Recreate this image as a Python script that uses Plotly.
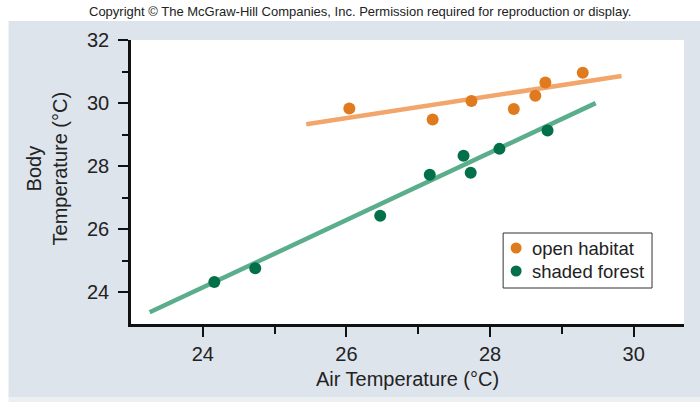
import plotly.graph_objects as go

# Lizard body temperature vs. air temperature in two habitats
open_air = [26.04, 27.20, 27.74, 28.33, 28.63, 28.77, 29.29]
open_body = [29.83, 29.48, 30.07, 29.81, 30.23, 30.65, 30.96]

forest_air = [24.16, 24.73, 26.47, 27.16, 27.63, 27.73, 28.13, 28.80]
forest_body = [24.33, 24.77, 26.43, 27.73, 28.33, 27.79, 28.55, 29.13]

# Regression line end points
open_fit_air = [25.44, 29.83]
open_fit_body = [29.33, 30.86]
forest_fit_air = [23.26, 29.47]
forest_fit_body = [23.37, 30.00]

major_ticks = [24, 26, 28, 30]
minor_x_ticks = [25, 27, 29]
major_y_ticks = [24, 26, 28, 30, 32]
minor_y_ticks = [25, 27, 29, 31]

series_names = ["open habitat", "shaded forest"]

ORANGE = "#e07a1f"
ORANGE_LINE = "#f2a66c"
GREEN = "#03704a"
GREEN_LINE = "#5bae8c"
PANEL = "#dde4ec"
FONT = "Liberation Sans, Arial, sans-serif"

fig = go.Figure()

fig.add_trace(go.Scatter(x=open_fit_air, y=open_fit_body, mode="lines",
                         line=dict(color=ORANGE_LINE, width=4.5),
                         showlegend=False, hoverinfo="skip"))
fig.add_trace(go.Scatter(x=forest_fit_air, y=forest_fit_body, mode="lines",
                         line=dict(color=GREEN_LINE, width=4.5),
                         showlegend=False, hoverinfo="skip"))
fig.add_trace(go.Scatter(x=open_air, y=open_body, mode="markers",
                         name=series_names[0], showlegend=False,
                         marker=dict(color=ORANGE, size=12)))
fig.add_trace(go.Scatter(x=forest_air, y=forest_body, mode="markers",
                         name=series_names[1], showlegend=False,
                         marker=dict(color=GREEN, size=12)))

L, R, T, B = 130.6, 16, 40, 78
W, H = 700, 402
pw, ph = W - L - R, H - T - B


def px_x(p):
    return (p - L) / pw


def px_y(p):
    return (H - B - p) / ph


shapes = [
    # grey-blue panel behind the chart
    dict(type="rect", xref="paper", yref="paper", layer="below",
         x0=px_x(8), x1=px_x(702), y0=px_y(397), y1=px_y(21),
         fillcolor=PANEL, line=dict(width=0)),
    dict(type="rect", xref="paper", yref="paper", layer="below",
         x0=px_x(8), x1=px_x(702), y0=px_y(403), y1=px_y(397),
         fillcolor="#edf0f3", line=dict(width=0)),
    # white plotting area
    dict(type="rect", xref="paper", yref="paper", layer="below",
         x0=0, x1=1, y0=0, y1=1,
         fillcolor="white", line=dict(width=0)),
    # legend box
    dict(type="rect", xref="paper", yref="paper", layer="above",
         x0=px_x(503), x1=px_x(652), y0=px_y(288), y1=px_y(233),
         fillcolor="white", line=dict(color="#333", width=1)),
]

annotations = [
    dict(text="Copyright © The McGraw-Hill Companies, Inc. Permission required for reproduction or display.",
         xref="paper", yref="paper", x=px_x(360), y=px_y(11),
         xanchor="center", yanchor="middle", showarrow=False,
         font=dict(family="Liberation Sans Narrow, Arial Narrow, sans-serif",
                   size=13, color="#222")),
    dict(text="Body<br>Temperature (°C)", textangle=-90,
         xref="paper", yref="paper", x=px_x(47), y=px_y(168),
         xanchor="center", yanchor="middle", showarrow=False,
         font=dict(size=20, color="#222")),
]

# legend entries: swatch circle + label
for i, (name, col) in enumerate(zip(series_names, [ORANGE, GREEN])):
    cy = 248 + 23 * i
    shapes.append(dict(type="circle", xref="paper", yref="paper", layer="above",
                       x0=px_x(510.5), x1=px_x(521.5),
                       y0=px_y(cy + 5.5), y1=px_y(cy - 5.5),
                       fillcolor=col, line=dict(width=0)))
    annotations.append(dict(text=name, xref="paper", yref="paper",
                            x=px_x(530), y=px_y(cy), xanchor="left",
                            yanchor="middle", showarrow=False,
                            font=dict(size=18.5, color="#222")))

fig.update_layout(
    width=W, height=H,
    margin=dict(l=L, r=R, t=T, b=B, pad=0),
    paper_bgcolor="white",
    plot_bgcolor="rgba(0,0,0,0)",
    font=dict(family=FONT, color="#222", size=20),
    shapes=shapes,
    annotations=annotations,
    showlegend=False,
    xaxis=dict(
        range=[23, 30.7], showgrid=False, zeroline=False,
        showline=True, linecolor="#111", linewidth=2.5,
        ticks="outside", tickvals=major_ticks, ticklen=10, tickwidth=1.5,
        tickcolor="#111", tickfont=dict(size=20),
        minor=dict(tickvals=minor_x_ticks, ticks="outside", ticklen=7,
                   tickwidth=1.5, tickcolor="#111"),
        title=dict(text="Air Temperature (°C)", font=dict(size=20), standoff=9),
    ),
    yaxis=dict(
        range=[23, 32], showgrid=False, zeroline=False,
        showline=True, linecolor="#111", linewidth=2.5,
        ticks="outside", tickvals=major_y_ticks, ticklen=10, tickwidth=1.5,
        tickcolor="#111", tickfont=dict(size=20), ticklabelstandoff=5,
        minor=dict(tickvals=minor_y_ticks, ticks="outside", ticklen=6,
                   tickwidth=1.5, tickcolor="#111"),
    ),
)

fig.write_html("out.html")
